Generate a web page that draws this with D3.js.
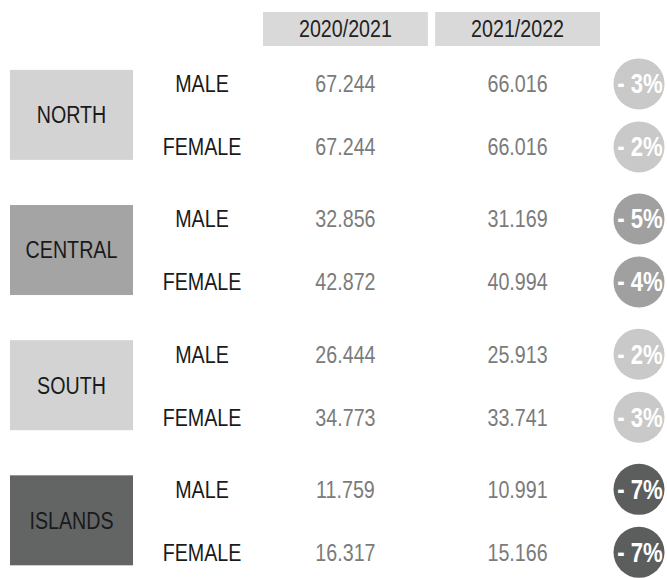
<!DOCTYPE html>
<html>
<head>
<meta charset="utf-8">
<script src="https://cdn.jsdelivr.net/npm/d3@7"></script>
<style>
  body { margin: 0; background: #fff; }
  svg text { font-family: "Liberation Sans", Arial, sans-serif; }
</style>
</head>
<body>
<svg width="667" height="578"></svg>
<script>
// data
const regions = ['NORTH', 'CENTRAL', 'SOUTH', 'ISLANDS']
const genders = ['MALE', 'FEMALE']
const seasons = ['2020/2021', '2021/2022']
// students per region and gender, same order as regions x genders
const values2021 = [67244, 67244, 32856, 42872, 26444, 34773, 11759, 16317]
const values2022 = [66016, 66016, 31169, 40994, 25913, 33741, 10991, 15166]
const changes = [-3, -2, -5, -4, -2, -3, -7, -7]

// colours per region (box, circle)
const boxColor = d3.scaleOrdinal().domain(regions).range(['#d3d3d3', '#a4a4a4', '#d3d3d3', '#636565'])
const dotColor = d3.scaleOrdinal().domain(regions).range(['#c9c9c9', '#a0a0a0', '#c9c9c9', '#5c5e5e'])

const svg = d3.select('svg')

// Italian style thousands separator
const it = d3.formatLocale({ decimal: ',', thousands: '.', grouping: [3], currency: ['€', ''] })
const fmt = it.format(',d')

const rows = []
regions.forEach((r, i) => {
  genders.forEach((g, j) => {
    const k = i * 2 + j
    rows.push({ region: r, gender: g, v1: values2021[k], v2: values2022[k], change: changes[k] })
  })
})

const y = d3.scaleBand().domain(regions).range([44.3, 584.9])
const yg = d3.scalePoint().domain(genders).range([-28, 35])
const x = d3.scaleBand().domain(seasons).range([263, 600]).paddingInner(0.042)

const boxX = 10, boxW = 123, boxH = 90
const genderX = 202
const dotX = 639, dotR = 25.5
const narrow = 0.82 // no narrow font installed, squeeze the normal one
const rowY = d => y(d.region) + y.bandwidth() / 2 + yg(d.gender)

// centred, squeezed text
function label (sel, fx, fy) {
  return sel.append('text')
    .attr('transform', d => `translate(${fx(d)},${fy(d)}) scale(${narrow},1)`)
    .attr('dy', '0.35em').attr('text-anchor', 'middle')
    .attr('font-size', 24)
}

// header
const head = svg.append('g')
head.selectAll('rect').data(seasons).enter().append('rect')
  .attr('x', d => x(d)).attr('y', 12)
  .attr('width', x.bandwidth()).attr('height', 34)
  .attr('fill', '#d9d9d9')
label(head.selectAll('g').data(seasons).enter(), d => x(d) + x.bandwidth() / 2, () => 29)
  .attr('fill', '#222')
  .text(d => d)

// region boxes
const reg = svg.append('g').selectAll('g').data(regions).enter().append('g')
reg.append('rect')
  .attr('x', boxX).attr('y', d => y(d) + y.bandwidth() / 2 - boxH / 2 + 3)
  .attr('width', boxW).attr('height', boxH)
  .attr('fill', d => boxColor(d))
label(reg, () => boxX + boxW / 2, d => y(d) + y.bandwidth() / 2 + 3)
  .attr('fill', '#1a1a1a')
  .text(d => d)

// rows
const row = svg.append('g').selectAll('g').data(rows).enter().append('g')
label(row, () => genderX, rowY)
  .attr('fill', '#1a1a1a')
  .text(d => d.gender)
label(row, () => x(seasons[0]) + x.bandwidth() / 2, rowY)
  .attr('fill', '#7b7b7b')
  .text(d => fmt(d.v1))
label(row, () => x(seasons[1]) + x.bandwidth() / 2, rowY)
  .attr('fill', '#7b7b7b')
  .text(d => fmt(d.v2))
row.append('circle')
  .attr('cx', dotX).attr('cy', rowY).attr('r', dotR)
  .attr('fill', d => dotColor(d.region))
label(row, () => dotX + 1, rowY)
  .attr('font-size', 27).attr('font-weight', 'bold').attr('fill', '#fff')
  .text(d => '- ' + Math.abs(d.change) + '%')
</script>
</body>
</html>
